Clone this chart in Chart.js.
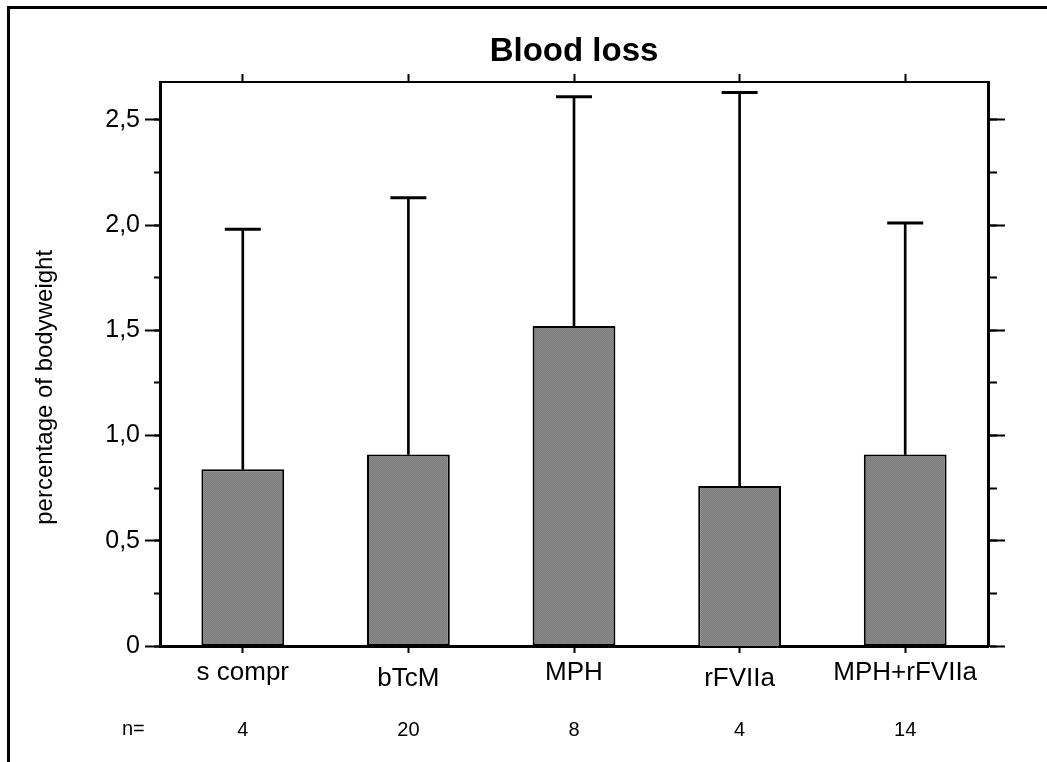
<!DOCTYPE html>
<html>
<head>
<meta charset="utf-8">
<script src="https://cdn.jsdelivr.net/npm/chart.js@4.4.1/dist/chart.umd.min.js"></script>
<style>
  body { margin: 0; background: #fff; }
  #wrap { position: relative; width: 1047px; height: 762px; overflow: hidden; }
  #frame { position: absolute; left: 7px; top: 6px; right: -5px; bottom: -5px; border-left: 3px solid #000; border-top: 3px solid #000; pointer-events: none; }
  #nlabel { position: absolute; left: 122px; top: 717px; line-height: 24px; font: 20px 'Liberation Sans', Arial, sans-serif; color: #000; }
  canvas { position: absolute; left: 0; top: 0; }
</style>
</head>
<body>
<div id="wrap">
  <canvas id="chart" width="1047" height="762"></canvas>
  <div id="frame"></div>
  <div id="nlabel">n=</div>
</div>
<script>
// data
const groups = ['s compr', 'bTcM', 'MPH', 'rFVIIa', 'MPH+rFVIIa'];
const nCounts = ['4', '20', '8', '4', '14'];
const barBase = [0, 0, 0, -0.01, 0];
const means = [0.84, 0.91, 1.52, 0.76, 0.91];
const upper = [1.98, 2.13, 2.61, 2.63, 2.01];
const yMax = 2.68;

const FONT = "'Liberation Sans', Arial, Helvetica, sans-serif";
const ctx = document.getElementById('chart').getContext('2d');

// grey dotted fill like the printed bars
function greyPattern() {
  const c = document.createElement('canvas');
  c.width = 2; c.height = 2;
  const g = c.getContext('2d');
  g.fillStyle = '#7a7a7a';
  g.fillRect(0, 0, 2, 2);
  g.fillStyle = '#8c8c8c';
  g.fillRect(0, 0, 1, 1);
  g.fillRect(1, 1, 1, 1);
  return ctx.createPattern(c, 'repeat');
}

const fmt = v => v === 0 ? '0' : v.toFixed(1).replace('.', ',');

function yAxis(position, step, tickLen, showLabels, weight, width) {
  return {
    type: 'linear',
    position: position,
    weight: weight,
    min: 0,
    max: yMax,
    border: { display: true, color: '#000', width: 3 },
    grid: { drawOnChartArea: false, drawTicks: true, tickLength: tickLen, tickWidth: 2, tickColor: '#000' },
    ticks: {
      display: showLabels,
      stepSize: step,
      includeBounds: false,
      padding: 5,
      color: '#000',
      font: { family: FONT, size: 25 },
      callback: fmt
    },
    afterFit: s => { s.width = width; }
  };
}

const left = yAxis('left', 0.5, 15, true, 1, 160);
left.title = {
  display: true,
  text: 'percentage of bodyweight\u00a0\u00a0\u00a0\u00a0\u00a0\u00a0\u00a0',
  color: '#000',
  font: { family: FONT, size: 24 },
  padding: { top: 31, bottom: 0 }
};

new Chart(ctx, {
  type: 'bar',
  data: {
    labels: groups,
    datasets: [
      {
        type: 'line',
        order: 1,
        data: upper,
        showLine: false,
        pointStyle: 'line',
        pointRadius: 18,
        pointHoverRadius: 18,
        pointBorderWidth: 3,
        pointBorderColor: '#000',
        borderColor: '#000',
        xAxisID: 'x',
        yAxisID: 'y'
      },
      {
        order: 2,
        data: groups.map((g, i) => [means[i], upper[i]]),
        backgroundColor: '#000',
        borderWidth: 0,
        barThickness: 2,
        grouped: false,
        xAxisID: 'x',
        yAxisID: 'y'
      },
      {
        order: 3,
        data: groups.map((g, i) => [barBase[i], means[i]]),
        backgroundColor: greyPattern(),
        borderColor: '#000',
        borderWidth: 2,
        borderSkipped: false,
        categoryPercentage: 1,
        barPercentage: 0.5,
        grouped: false,
        clip: 8,
        xAxisID: 'x',
        yAxisID: 'y'
      }
    ]
  },
  options: {
    responsive: false,
    animation: false,
    events: [],
    layout: { padding: 0, autoPadding: false },
    plugins: { legend: { display: false }, tooltip: { enabled: false }, title: { display: false } },
    scales: {
      x: {
        type: 'category',
        position: 'bottom',
        weight: 0,
        offset: true,
        border: { display: true, color: '#000', width: 3 },
        grid: { offset: false, drawOnChartArea: false, tickLength: 7, tickWidth: 2, tickColor: '#000' },
        ticks: {
          color: '#000',
          padding: 5,
          maxRotation: 0,
          autoSkip: false,
          // every second label sits a little lower, as in the print
          font: c => ({ family: FONT, size: 26, lineHeight: c.index % 2 ? 1.62 : 1.15 })
        },
        afterFit: s => { s.height = 62; }
      },
      xN: {
        type: 'category',
        position: 'bottom',
        weight: 1,
        offset: true,
        labels: nCounts,
        border: { display: false },
        grid: { display: false, drawTicks: false },
        ticks: { color: '#000', padding: 10, autoSkip: false, maxRotation: 0, font: { family: FONT, size: 20 } },
        afterFit: s => { s.height = 54; }
      },
      xTop: {
        type: 'category',
        position: 'top',
        weight: 0,
        offset: true,
        border: { display: true, color: '#000', width: 2 },
        grid: { offset: false, drawOnChartArea: false, tickLength: 8, tickWidth: 2, tickColor: '#000' },
        ticks: { display: false },
        title: {
          display: true,
          text: 'Blood loss',
          color: '#000',
          font: { family: FONT, size: 33, weight: 'bold' },
          padding: { top: 32, bottom: 0 }
        },
        afterFit: s => { s.height = 82; }
      },
      y: left,
      yMinor: yAxis('left', 0.25, 6, false, 0, 0),
      yRight: yAxis('right', 0.5, 17, false, 1, 59),
      yRightMinor: yAxis('right', 0.25, 9, false, 0, 0)
    }
  }
});
</script>
</body>
</html>
